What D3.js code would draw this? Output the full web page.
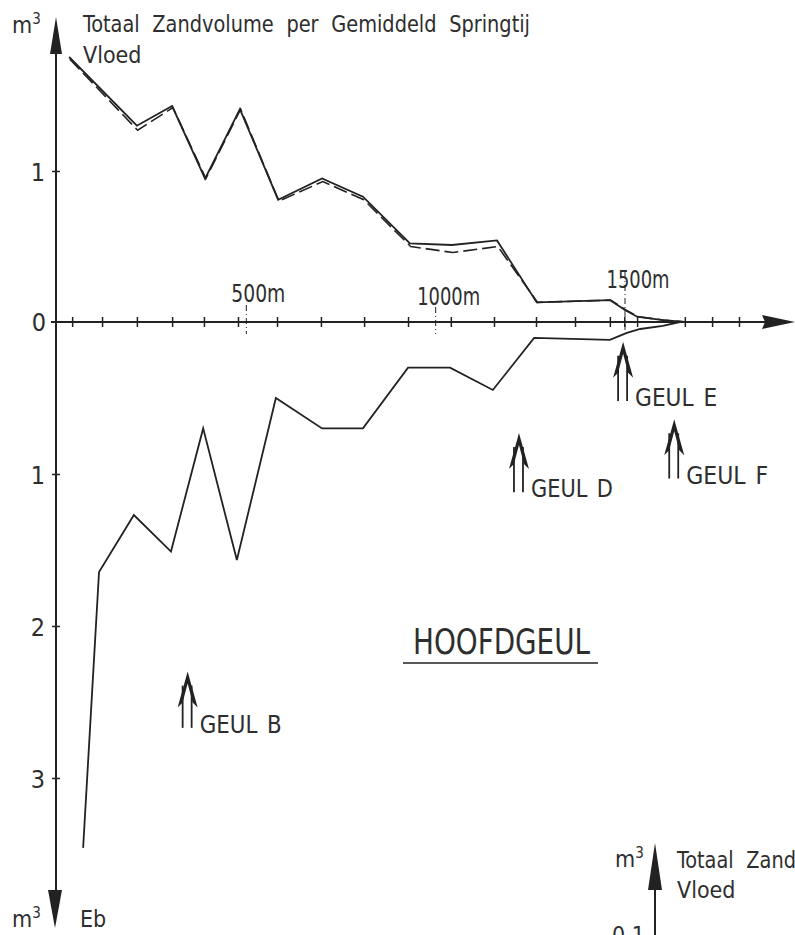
<!DOCTYPE html>
<html>
<head>
<meta charset="utf-8">
<script src="https://cdn.jsdelivr.net/npm/d3@7"></script>
<style>
  html, body { margin: 0; padding: 0; background: #fff; }
  svg { display: block; }
  text { font-family: 'Liberation Sans Narrow', 'DejaVu Sans Condensed', 'Noto Sans', sans-serif; fill: #2e2e2e; }
</style>
</head>
<body>
<script>
// ---------- data (distance in m, volume in m3) ----------
const stations = [40, 119, 211, 304, 388, 478, 581, 697, 811, 927, 1040, 1154, 1265, 1368, 1460, 1498, 1532, 1658, 1730, 1801];
const distanceMarks = [500, 1000, 1500];
const distanceLabels = ["500m", "1000m", "1500m"];

const floodDist   = [32, 211, 304, 391, 483, 584, 700, 808, 932, 1043, 1162, 1267, 1460, 1500, 1532, 1600, 1658];
const floodSolid  = [1.755, 1.30, 1.43, 0.95, 1.41, 0.81, 0.95, 0.83, 0.52, 0.51, 0.54, 0.13, 0.145, 0.08, 0.035, 0.013, 0];
const floodDashed = [1.74, 1.27, 1.42, 0.95, 1.41, 0.80, 0.93, 0.81, 0.50, 0.46, 0.50, 0.13, 0.145, 0.08, 0.035, 0.013, 0];

const ebbDist  = [69, 111, 203, 301, 386, 475, 578, 700, 808, 927, 1038, 1151, 1260, 1460, 1505, 1540, 1600, 1645];
const ebbValue = [3.46, 1.645, 1.27, 1.51, 0.70, 1.566, 0.50, 0.70, 0.70, 0.30, 0.30, 0.447, 0.105, 0.118, 0.072, 0.046, 0.026, 0];

const floodTicks = [1];
const ebbTicks = [1, 2, 3];

const channelNames = ["GEUL B", "GEUL D", "GEUL E", "GEUL F"];
const channelDist  = [345, 1220, 1495, 1630];
// ebb-side depth (m3 scale) of arrow tip and foot
const channelTip  = [2.30, 0.73, 0.13, 0.64];
const channelFoot = [2.67, 1.12, 0.52, 1.03];

const titleText = "Totaal Zandvolume per Gemiddeld Springtij";

// ---------- drawing ----------
const W = 795, H = 935;
const svg = d3.select("body").append("svg").attr("width", W).attr("height", H);
const ink = "#222";

const x = d3.scaleLinear().domain([0, 1500]).range([57, 625]);
const yTop = d3.scaleLinear().domain([0, 1]).range([322, 171]);
const yBot = d3.scaleLinear().domain([0, 1]).range([322, 474]);

// vertical axis
svg.append("line").attr("x1", 56).attr("x2", 56).attr("y1", 40).attr("y2", 900)
  .attr("stroke", ink).attr("stroke-width", 2);
svg.append("path").attr("d", "M56,17 L62,54 L50,54 Z").attr("fill", ink);
svg.append("path").attr("d", "M55,928 L62,890 L48,890 Z").attr("fill", ink);

// y tick marks + labels
const gTop = svg.append("g").attr("transform", "translate(60,0)")
  .call(d3.axisLeft(yTop).tickValues(floodTicks).tickSize(8).tickFormat(d3.format("d")));
const gBot = svg.append("g").attr("transform", "translate(60,0)")
  .call(d3.axisLeft(yBot).tickValues(ebbTicks).tickSize(8).tickFormat(d3.format("d")));
[gTop, gBot].forEach(g => {
  g.select(".domain").remove();
  g.selectAll("line").attr("stroke", ink).attr("stroke-width", 1.5);
  g.selectAll("text").attr("x", -15).attr("dy", "0.36em")
    .style("font-size", "25px").style("fill", "#2e2e2e");
});
svg.append("text").attr("x", 46).attr("y", 331).attr("text-anchor", "end")
  .style("font-size", "25px").text("0");

// horizontal axis
svg.append("line").attr("x1", 51).attr("x2", 770).attr("y1", 322).attr("y2", 322)
  .attr("stroke", ink).attr("stroke-width", 2);
svg.append("path").attr("d", "M795,322 L762,315 L765,322 L762,329 Z").attr("fill", ink);
const gx = svg.append("g").attr("transform", "translate(0,317)")
  .call(d3.axisBottom(x).tickValues(stations).tickSize(10).tickFormat(""));
gx.select(".domain").remove();
gx.selectAll("line").attr("stroke", ink).attr("stroke-width", 1.5);

// distance marks (dash-dot) and labels
const markTop = [305, 307, 272];
const labelBase = [302, 305, 288];
distanceMarks.forEach((d, i) => {
  svg.append("line").attr("x1", x(d)).attr("x2", x(d)).attr("y1", markTop[i]).attr("y2", 334)
    .attr("stroke", ink).attr("stroke-width", 1).attr("stroke-dasharray", "6,3,1,3");
  svg.append("text").attr("x", x(d) + (i === 0 ? 12 : 13)).attr("y", labelBase[i])
    .attr("text-anchor", "middle").style("font-size", "24px")
    .attr("textLength", i === 0 ? 54 : 63).attr("lengthAdjust", "spacingAndGlyphs")
    .text(distanceLabels[i]);
});

// curves
const lineTop = d3.line().x(d => x(d[0])).y(d => yTop(d[1]));
const lineBot = d3.line().x(d => x(d[0])).y(d => yBot(d[1]));

svg.append("path").attr("d", lineTop(d3.zip(floodDist, floodDashed).map(p => [p[0] + 2, p[1]])))
  .attr("fill", "none").attr("stroke", ink).attr("stroke-width", 1.6)
  .attr("stroke-dasharray", "14,5");
svg.append("path").attr("d", lineTop(d3.zip(floodDist, floodSolid)))
  .attr("fill", "none").attr("stroke", ink).attr("stroke-width", 1.8);
svg.append("path").attr("d", lineBot(d3.zip(ebbDist, ebbValue)))
  .attr("fill", "none").attr("stroke", ink).attr("stroke-width", 1.8);

// channel arrows
channelNames.forEach((name, i) => {
  const cx = x(channelDist[i]), ty = yBot(channelTip[i]), by = yBot(channelFoot[i]);
  const g = svg.append("g");
  g.append("line").attr("x1", cx - 5).attr("x2", cx - 5).attr("y1", ty + 14).attr("y2", by)
    .attr("stroke", ink).attr("stroke-width", 1.8);
  g.append("line").attr("x1", cx + 4).attr("x2", cx + 4).attr("y1", ty + 14).attr("y2", by)
    .attr("stroke", ink).attr("stroke-width", 1.8);
  g.append("path")
    .attr("d", `M${cx},${ty} L${cx + 10},${ty + 36} L${cx + 5},${ty + 31} L${cx},${ty + 12} L${cx - 5},${ty + 31} L${cx - 10},${ty + 36} Z`)
    .attr("fill", ink);
  g.append("text").attr("x", cx + 12).attr("y", by + 5)
    .style("font-size", "25px").style("word-spacing", "3px")
    .attr("textLength", 82).attr("lengthAdjust", "spacingAndGlyphs")
    .text(name);
});

// HOOFDGEUL
svg.append("text").attr("x", 413).attr("y", 654).style("font-size", "36px")
  .attr("textLength", 177).attr("lengthAdjust", "spacingAndGlyphs").text("HOOFDGEUL");
svg.append("line").attr("x1", 403).attr("x2", 598).attr("y1", 663).attr("y2", 663)
  .attr("stroke", ink).attr("stroke-width", 1.6);

// titles
function m3(xp, yp) {
  const t = svg.append("text").attr("x", xp).attr("y", yp).style("font-size", "23px");
  t.append("tspan").text("m");
  t.append("tspan").attr("dy", -9).style("font-size", "15px").text("3");
}
m3(12, 33);
svg.append("text").attr("x", 83).attr("y", 32).style("font-size", "23px")
  .style("word-spacing", "7px")
  .attr("textLength", 447).attr("lengthAdjust", "spacingAndGlyphs").text(titleText);
svg.append("text").attr("x", 83).attr("y", 63).style("font-size", "23px").text("Vloed");
m3(12, 927);
svg.append("text").attr("x", 80).attr("y", 927).style("font-size", "23px").text("Eb");

// inset (next panel, partly visible)
m3(615, 867);
svg.append("line").attr("x1", 655).attr("x2", 655).attr("y1", 870).attr("y2", 940)
  .attr("stroke", ink).attr("stroke-width", 2);
svg.append("path").attr("d", "M655,843 L662,890 L648,890 Z").attr("fill", ink);
svg.append("line").attr("x1", 650).attr("x2", 660).attr("y1", 936).attr("y2", 936)
  .attr("stroke", ink).attr("stroke-width", 1.5);
svg.append("text").attr("x", 677).attr("y", 868).style("font-size", "23px")
  .style("word-spacing", "7px")
  .attr("textLength", 447).attr("lengthAdjust", "spacingAndGlyphs").text(titleText);
svg.append("text").attr("x", 677).attr("y", 898).style("font-size", "23px").text("Vloed");
svg.append("text").attr("x", 645).attr("y", 943).attr("text-anchor", "end").style("font-size", "23px").text("0.1");
</script>
</body>
</html>
